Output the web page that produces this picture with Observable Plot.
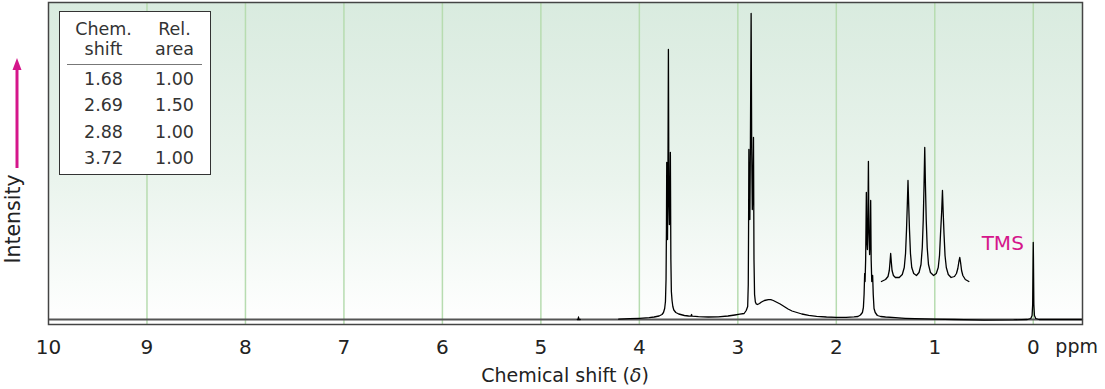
<!DOCTYPE html>
<html><head><meta charset="utf-8">
<script src="https://cdn.jsdelivr.net/npm/d3@7"></script>
<script src="https://cdn.jsdelivr.net/npm/@observablehq/plot@0.6"></script>
<style>
body{margin:0;background:#fff;font-family:"DejaVu Sans",sans-serif;}
#wrap{position:relative;width:1105px;height:389px;}
#tbl{position:absolute;left:59px;top:11px;width:152px;height:164px;box-sizing:border-box;border:1.5px solid #333;background:#fff;color:#333;}
.cell{position:absolute;transform:translate(-50%,-50%);white-space:nowrap;line-height:1;}
.hd{font-size:17.5px;}
.num{font-size:17.5px;}
.sep{position:absolute;left:6.5px;width:135px;top:51.5px;height:0;border-top:1.5px solid #777;}
</style></head><body><div id="wrap"></div>
<script>
// ---- data ----
const xTicks = [10, 9, 8, 7, 6, 5, 4, 3, 2, 1, 0];
const gridPpm = [9, 8, 7, 6, 5, 4, 3, 2, 1, 0];
const xUnit = "ppm";
const tableHeadShift = ["Chem.", "shift"];
const tableHeadArea = ["Rel.", "area"];
const tableShifts = ["1.68", "2.69", "2.88", "3.72"];
const tableAreas = ["1.00", "1.50", "1.00", "1.00"];
// [ppm, intensity]
const spectrum = [
[4.63,0],[4.622,0],[4.618,2.5],[4.614,0],[4.60,0],[4.58,NaN],
[4.21,0.3],[4.1,0.8],[4.0,1.2],[3.9,1.8],[3.85,2.5],[3.8,3.5],[3.77,5],[3.755,7],[3.743,11],[3.735,18],[3.729,40],[3.725,90],[3.722,157],[3.718,95],[3.714,80],[3.71,140],[3.705,270],[3.7,120],[3.695,95],[3.69,120],[3.685,167],[3.68,60],[3.675,28],[3.668,19],[3.66,13],[3.65,9.5],[3.63,7],[3.6,5.5],[3.543,4],[3.5,3.5],[3.475,3.3],[3.47,5],[3.465,3.3],[3.4,2.8],[3.3,2.5],[3.2,2.6],[3.1,3.5],[3.03,4.5],[2.98,5.3],[2.936,6],[2.915,9],[2.9,13],[2.894,35],[2.891,90],[2.888,170],[2.884,110],[2.878,100],[2.872,180],[2.865,306],[2.859,170],[2.853,110],[2.847,130],[2.841,182],[2.836,60],[2.83,25],[2.822,17.5],[2.814,15.7],[2.8,15],[2.78,16],[2.76,17.5],[2.73,19],[2.69,19.8],[2.665,19.8],[2.64,19],[2.61,17.5],[2.57,15.5],[2.53,13],[2.49,10.5],[2.45,8.5],[2.4,7],[2.35,5.5],[2.28,4.2],[2.2,3.2],[2.1,2.5],[2.0,2.1],[1.9,2.2],[1.82,2.6],[1.78,3],[1.755,4.5],[1.735,7],[1.725,12],[1.718,25],[1.712,46],[1.708,38],[1.702,60],[1.695,127],[1.69,80],[1.684,70],[1.679,100],[1.674,158],[1.669,90],[1.662,65],[1.657,80],[1.651,119],[1.646,60],[1.64,38],[1.635,40],[1.631,44],[1.625,25],[1.617,11],[1.605,7],[1.583,4],[1.55,3],[1.5,2.5],[1.4,1.8],[1.3,1.2],[1.2,0.8],[1.0,0.3],[0.8,0],[0.5,-0.6],[0.2,-0.4],[0.06,0],[0.025,1],[0.012,4],[0.006,15],[0.002,60],[0,77],[-0.002,60],[-0.006,15],[-0.012,4],[-0.025,1],[-0.06,0],[-0.5,0]
];
// expanded 1.68 multiplet (inset), [ppm, intensity]
const inset = [
[1.542,38],[1.50,40],[1.475,43],[1.462,49],[1.455,57],[1.448,66],[1.441,57],[1.434,49],[1.42,44],[1.40,42],[1.361,42],
[1.33,45],[1.31,52],[1.297,66],[1.287,90],[1.279,115],[1.272,139],[1.265,115],[1.257,90],[1.247,66],[1.234,52],[1.214,46],[1.186,44],
[1.16,47],[1.14,55],[1.127,72],[1.117,100],[1.109,135],[1.102,172],[1.095,135],[1.087,100],[1.077,72],[1.064,55],[1.044,47],[1.012,44],
[0.985,46],[0.965,52],[0.952,64],[0.942,85],[0.93,108],[0.922,129],[0.915,108],[0.906,85],[0.896,64],[0.883,52],[0.863,45],[0.834,42],
[0.80,43],[0.78,46],[0.766,51],[0.755,58],[0.746,62],[0.738,57],[0.728,49],[0.715,44],[0.69,40],[0.654,38]
];
const annotations = [{ppm: 0.31, h: 76, text: "TMS"}];
const intensityLabel = {text: "Intensity", h: 100};
const arrowSpan = [151, 261];

const magenta = "#d5168b";

// ---- marks ----
function defsMark() {
  const defs = d3.create("svg:defs");
  const g = defs.append("linearGradient").attr("id", "nmrbg").attr("x1", 0).attr("y1", 0).attr("x2", 0).attr("y2", 1);
  g.append("stop").attr("offset", "0%").attr("stop-color", "#d9ebdf");
  g.append("stop").attr("offset", "55%").attr("stop-color", "#eaf4ed");
  g.append("stop").attr("offset", "100%").attr("stop-color", "#ffffff");
  return defs.node();
}
function arrowMark(index, scales, values, dims) {
  const y = scales.y;
  const x = dims.marginLeft - 31;
  const g = d3.create("svg:g");
  const tip = y(arrowSpan[1]);
  g.append("line").attr("x1", x).attr("x2", x).attr("y1", y(arrowSpan[0])).attr("y2", tip + 10)
    .attr("stroke", magenta).attr("stroke-width", 3);
  g.append("path").attr("d", `M${x},${tip}L${x + 4.5},${tip + 12}L${x - 4.5},${tip + 12}Z`).attr("fill", magenta);
  g.append("text").attr("x", dims.marginLeft - 35).attr("y", y(intensityLabel.h))
    .attr("transform", `rotate(-90 ${dims.marginLeft - 35} ${y(intensityLabel.h)})`)
    .attr("text-anchor", "middle").attr("dy", "0.35em").attr("font-size", 20.5).attr("fill", "#222")
    .text(intensityLabel.text);
  return g.node();
}
function xLabelMark(index, scales, values, dims) {
  const bottom = dims.height - dims.marginBottom;
  const g = d3.create("svg:g").attr("fill", "#222");
  const cx = (dims.marginLeft + dims.width - dims.marginRight) / 2;
  const t = g.append("text").attr("x", cx).attr("y", bottom + 51)
    .attr("text-anchor", "middle").attr("dy", "0.35em").attr("font-size", 19);
  t.append("tspan").text("Chemical shift (");
  t.append("tspan").attr("font-style", "italic").text("δ");
  t.append("tspan").text(")");
  g.append("text").attr("x", dims.width - dims.marginRight + 16).attr("y", bottom + 29)
    .attr("text-anchor", "end").attr("font-size", 19).text(xUnit);
  return g.node();
}

const plot = Plot.plot({
  width: 1105, height: 389,
  marginLeft: 48, marginRight: 23, marginTop: 2, marginBottom: 65,
  x: {domain: [10, -0.5], axis: null, label: null},
  y: {domain: [-5, 317], axis: null, label: null},
  style: {fontFamily: "DejaVu Sans", background: "transparent", color: "#222"},
  marks: [
    defsMark,
    Plot.frame({fill: "url(#nmrbg)"}),
    Plot.ruleX(gridPpm, {stroke: "#b7dcb0", strokeWidth: 1.5}),
    Plot.ruleY([0], {stroke: "#555", strokeWidth: 2}),
    Plot.line(spectrum, {x: d => d[0], y: d => d[1], stroke: "#000", strokeWidth: 1.3}),
    Plot.line(inset, {x: d => d[0], y: d => d[1], stroke: "#000", strokeWidth: 1.3}),
    Plot.text(annotations, {x: "ppm", y: "h", text: "text", fill: magenta, fontSize: 20}),
    Plot.frame({stroke: "#444", strokeWidth: 1.5}),
    Plot.axisX(xTicks, {tickSize: 0, tickPadding: 15, fontSize: 20, tickFormat: d => String(d), label: null}),
    xLabelMark,
    arrowMark
  ]
});
const wrap = document.getElementById("wrap");
wrap.appendChild(plot);

// ---- table overlay ----
const tbl = document.createElement("div");
tbl.id = "tbl";
wrap.appendChild(tbl);
function cell(text, cls, cx, cy) {
  const s = document.createElement("div");
  s.className = "cell " + cls;
  s.style.left = cx + "px"; s.style.top = cy + "px";
  s.textContent = text;
  tbl.appendChild(s);
}
const colX = [43.5, 114.5];
tableHeadShift.forEach((t, i) => cell(t, "hd", colX[0], 17.5 + i * 20));
tableHeadArea.forEach((t, i) => cell(t, "hd", colX[1], 17.5 + i * 20));
const sep = document.createElement("div"); sep.className = "sep"; tbl.appendChild(sep);
tableShifts.forEach((t, i) => cell(t, "num", colX[0], 68 + i * 26.3));
tableAreas.forEach((t, i) => cell(t, "num", colX[1], 68 + i * 26.3));
</script></body></html>
